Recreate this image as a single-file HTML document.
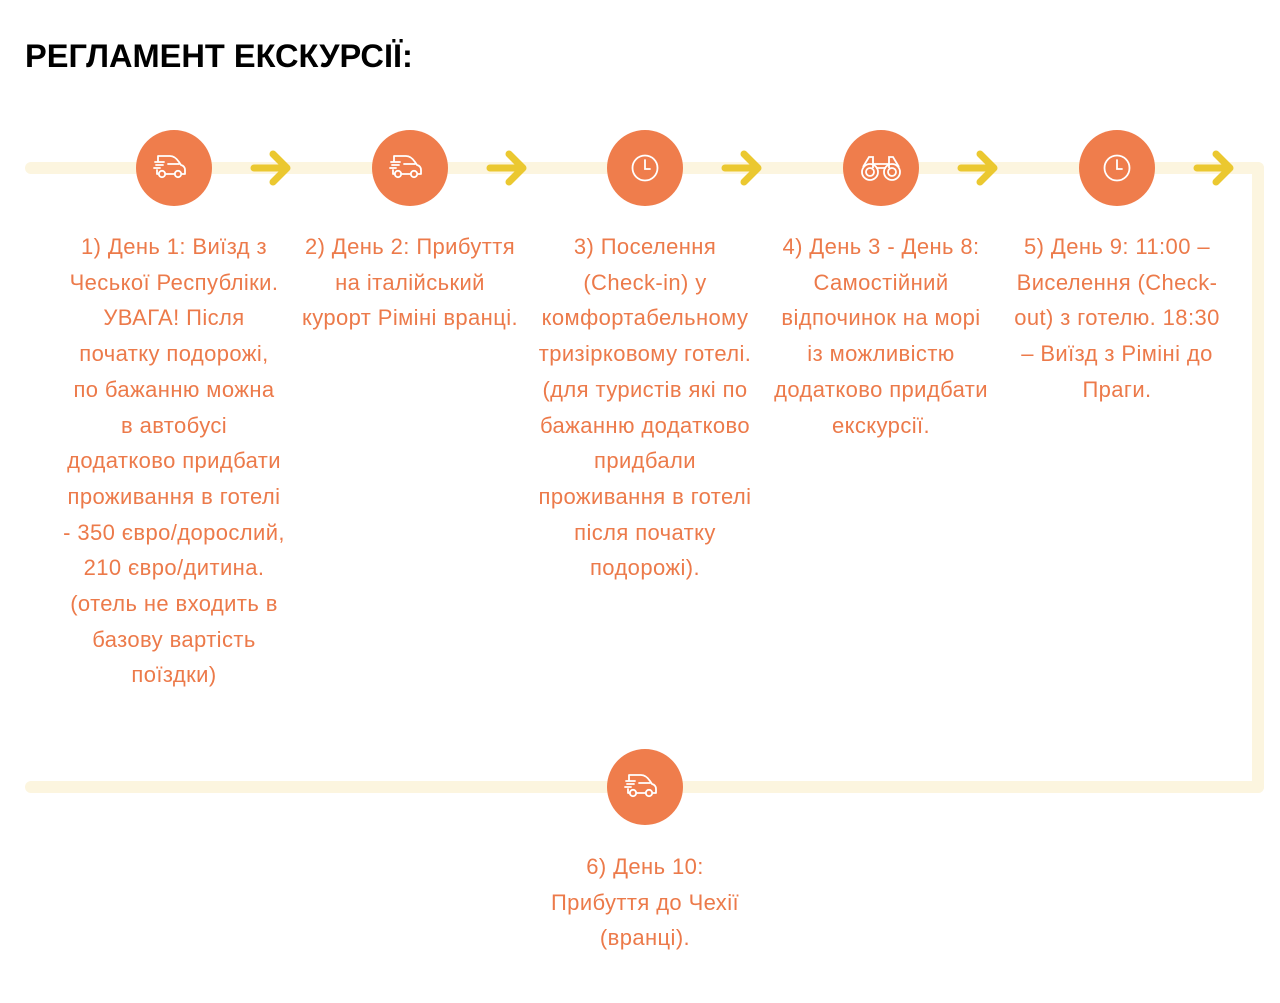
<!DOCTYPE html>
<html><head><meta charset="utf-8">
<style>
*{margin:0;padding:0;box-sizing:border-box}
body{width:1280px;height:1003px;background:#fff;position:relative;overflow:hidden;font-family:"Liberation Sans",Arial,sans-serif}
.title{position:absolute;left:25px;top:37px;font-size:32.6px;font-weight:bold;color:#000;white-space:nowrap}
.line{position:absolute;background:#fcf5df}
.c{position:absolute;width:76px;height:76px;border-radius:50%;background:#ef7d4c}
.c svg{position:absolute;left:14px;top:14px}
.ar{position:absolute}
.t{position:absolute;width:260px;text-align:center;color:#ec7a4a;font-size:22px;letter-spacing:0.4px;line-height:35.7px;white-space:nowrap}
</style></head><body>
<div class="title">РЕГЛАМЕНТ ЕКСКУРСІЇ:</div>

<div class="line" style="left:25px;top:162px;width:1239px;height:12px;border-radius:6px"></div>
<div class="line" style="left:1252px;top:162px;width:12px;height:631px;border-radius:6px"></div>
<div class="line" style="left:25px;top:781px;width:1239px;height:12px;border-radius:6px"></div>

<svg width="0" height="0" style="position:absolute">
<defs>
<g id="car" fill="none" stroke="#fff" stroke-width="1.8" stroke-linecap="round" stroke-linejoin="round">
<path d="M8 12 h12 q5 0 9 6 l2 3 q4 1 4 5 v4 h-3 M8 12 v5"/>
<path d="M9 30 h-2 v-4"/>
<circle cx="12" cy="30" r="3.2"/><circle cx="28" cy="30" r="3.2"/>
<path d="M15 30 h10"/>
<path d="M5 18 h9 M6 21 h7 M4 24 h6 M18 20 h11"/>
</g>
<g id="clock" fill="none" stroke="#fff" stroke-width="1.8" stroke-linecap="round">
<circle cx="24" cy="24" r="12.5"/><path d="M24 16 v9 h5"/>
</g>
<g id="bino" fill="none" stroke="#fff" stroke-width="1.8">
<circle cx="13" cy="28" r="8"/><circle cx="35" cy="28" r="8"/>
<circle cx="13" cy="28" r="4"/><circle cx="35" cy="28" r="4"/>
<path d="M6 23 l6 -10 h4 v11 M42 23 l-6 -10 h-4 v11 M16 20 h16 M19 24 h10"/>
</g>
<g id="arr" fill="none" stroke="#ebc830" stroke-width="7" stroke-linecap="round" stroke-linejoin="round">
<path d="M4 20 h32 M23 6 l14 14 l-14 14"/>
</g>
</defs>
</svg>

<div class="c" style="left:136px;top:130px"><svg width="48" height="48"><use href="#car"/></svg></div>
<div class="c" style="left:372px;top:130px"><svg width="48" height="48"><use href="#car"/></svg></div>
<div class="c" style="left:607px;top:130px"><svg width="48" height="48"><use href="#clock"/></svg></div>
<div class="c" style="left:843px;top:130px"><svg width="48" height="48"><use href="#bino"/></svg></div>
<div class="c" style="left:1079px;top:130px"><svg width="48" height="48"><use href="#clock"/></svg></div>
<div class="c" style="left:607px;top:749px"><svg width="48" height="48"><use href="#car"/></svg></div>

<svg class="ar" style="left:250px;top:148px" width="42" height="40"><use href="#arr"/></svg>
<svg class="ar" style="left:486px;top:148px" width="42" height="40"><use href="#arr"/></svg>
<svg class="ar" style="left:721px;top:148px" width="42" height="40"><use href="#arr"/></svg>
<svg class="ar" style="left:957px;top:148px" width="42" height="40"><use href="#arr"/></svg>
<svg class="ar" style="left:1193px;top:148px" width="42" height="40"><use href="#arr"/></svg>

<div class="t" style="left:44px;top:229px">1) День 1: Виїзд з<br>Чеської Республіки.<br>УВАГА! Після<br>початку подорожі,<br>по бажанню можна<br>в автобусі<br>додатково придбати<br>проживання в готелі<br>- 350 євро/дорослий,<br>210 євро/дитина.<br>(отель не входить в<br>базову вартість<br>поїздки)</div>
<div class="t" style="left:280px;top:229px">2) День 2: Прибуття<br>на італійський<br>курорт Ріміні вранці.</div>
<div class="t" style="left:515px;top:229px">3) Поселення<br>(Check-in) у<br>комфортабельному<br>тризірковому готелі.<br>(для туристів які по<br>бажанню додатково<br>придбали<br>проживання в готелі<br>після початку<br>подорожі).</div>
<div class="t" style="left:751px;top:229px">4) День 3 - День 8:<br>Самостійний<br>відпочинок на морі<br>із можливістю<br>додатково придбати<br>екскурсії.</div>
<div class="t" style="left:987px;top:229px">5) День 9: 11:00 –<br>Виселення (Check-<br>out) з готелю. 18:30<br>– Виїзд з Ріміні до<br>Праги.</div>
<div class="t" style="left:515px;top:849px">6) День 10:<br>Прибуття до Чехії<br>(вранці).</div>
</body></html>
